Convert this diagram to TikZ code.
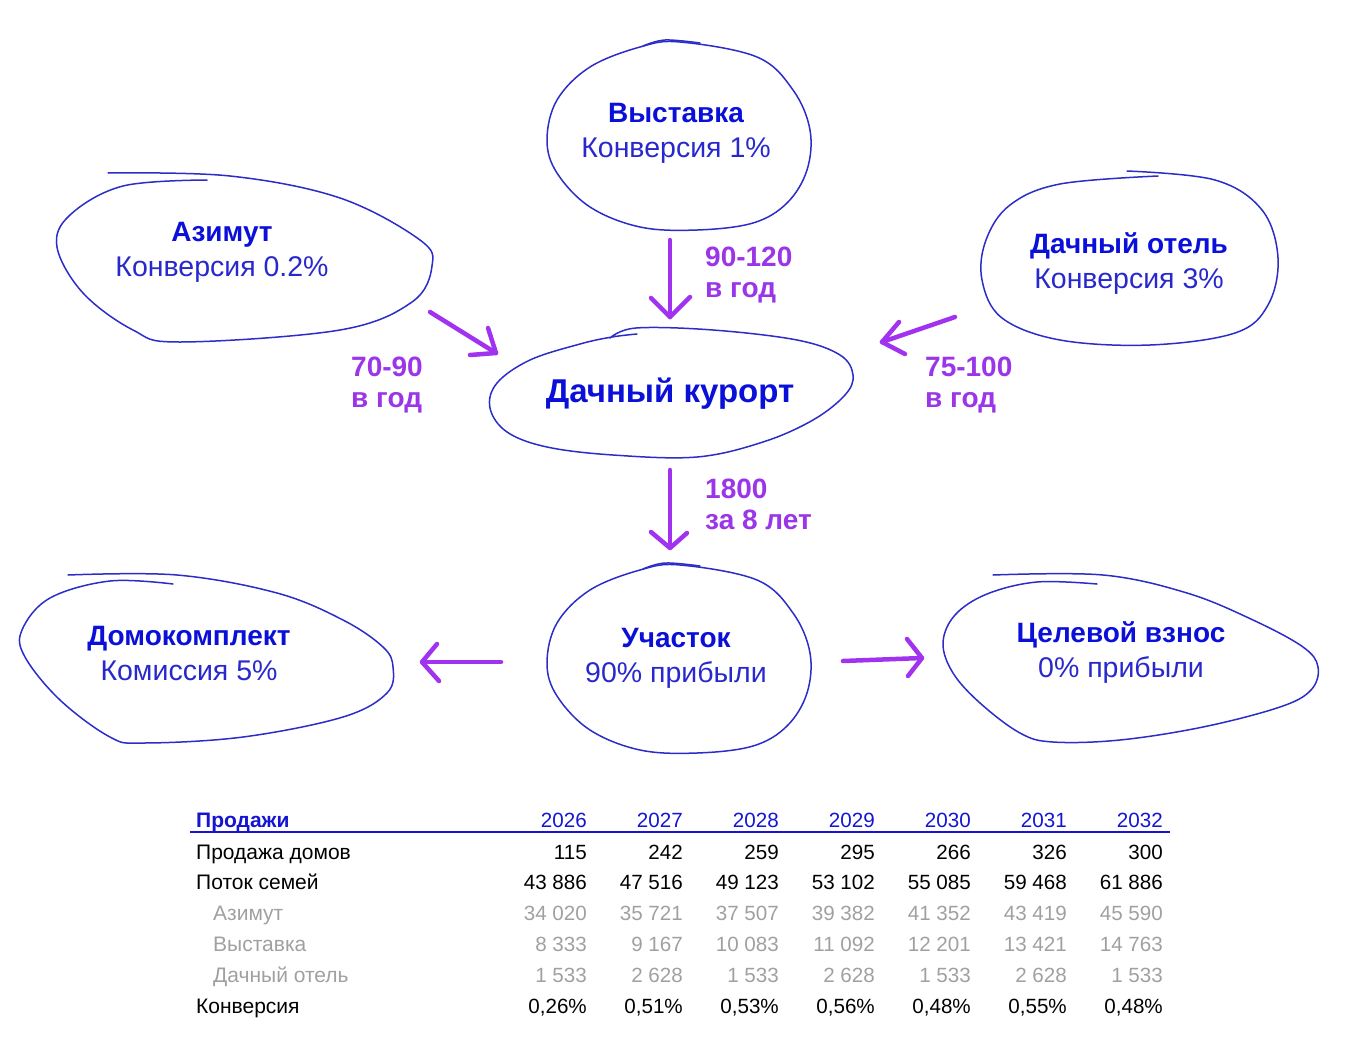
\documentclass[tikz,border=0pt]{standalone}
\usepackage{fontspec}
\setmainfont{Liberation Sans}
\definecolor{outline}{RGB}{44,44,200}
\definecolor{titlec}{RGB}{10,16,216}
\definecolor{subc}{RGB}{40,40,204}
\definecolor{arrowc}{RGB}{160,50,240}
\definecolor{lblc}{RGB}{155,53,232}
\definecolor{grayc}{RGB}{160,160,160}
\definecolor{hdrc}{RGB}{20,20,210}
\tikzset{
  blob/.style={draw=outline, line width=1.5pt, line cap=round, line join=round},
  arr/.style={draw=arrowc, line width=4.5pt, line cap=round, line join=round},
  bubbletext/.style={inner sep=0, align=center, font=\fontsize{28.5}{35}\selectfont},
  lbl/.style={inner sep=0, anchor=base west, text=lblc, font=\fontsize{28}{28}\selectfont\bfseries},
  tcell/.style={inner sep=0, anchor=base east, font=\fontsize{20.6}{24}\selectfont},
  tlabel/.style={inner sep=0, anchor=base west, font=\fontsize{21}{24}\selectfont},
}
\newcommand{\ttl}[1]{{\color{titlec}\fontsize{28}{35}\selectfont\bfseries #1}}
\newcommand{\sbt}[1]{{\color{subc}#1}}
\begin{document}
\begin{tikzpicture}[x=1pt,y=-1pt]
\useasboundingbox (0,0) rectangle (1354,1052);

% ---------- blobs ----------
% Выставка
\draw[blob] plot[smooth cycle, tension=0.6] coordinates {(680,42) (757,57) (793,90) (810,130) (807,170) (787,203) (753,223) (697,230) (640,227) (590,207) (557,173) (547,140) (557,100) (590,67) (640,47)};
\draw[blob] plot[smooth, tension=0.6] coordinates {(643,46) (665,40) (700,43)};
% Участок
\begin{scope}[shift={(0,523)}]
\draw[blob] plot[smooth cycle, tension=0.6] coordinates {(680,42) (757,57) (793,90) (810,130) (807,170) (787,203) (753,223) (697,230) (640,227) (590,207) (557,173) (547,140) (557,100) (590,67) (640,47)};
\draw[blob] plot[smooth, tension=0.6] coordinates {(643,46) (665,40) (700,43)};
\end{scope}
% Азимут
\draw[blob] plot[smooth, tension=0.6] coordinates {(207,180) (123,186) (70,215) (57,247) (83,293) (133,330) (180,342) (340,330) (412,302) (432,266) (420,240) (340,198) (230,176) (108,173)};
% Дачный отель
\draw[blob] plot[smooth, tension=0.6] coordinates {(1127,171) (1215,180) (1262,210) (1278,258) (1268,305) (1235,333) (1150,345) (1060,340) (1002,318) (982,280) (986,240) (1010,205) (1060,184) (1158,176)};
% Дачный курорт
\draw[blob] plot[smooth, tension=0.6] coordinates {(610,338) (636,328) (713,330) (797,340) (840,355) (853,375) (845,395) (813,420) (763,442) (697,457) (613,455) (547,447) (507,432) (490,408) (497,383) (530,360) (580,344) (612,337) (637,334)};
% Домокомплект
\draw[blob] plot[smooth, tension=0.6] coordinates {(68,575) (177,575) (277,593) (343,620) (383,647) (393,667) (387,693) (343,717) (243,737) (143,743) (110,737) (60,700) (25,657) (22,630) (50,598) (110,581) (173,584)};
% Целевой взнос
\draw[blob] plot[smooth, tension=0.6] coordinates {(993,575) (1103,575) (1187,593) (1253,620) (1303,647) (1318,667) (1311,690) (1280,707) (1203,727) (1120,740) (1053,742) (1020,733) (980,703) (953,673) (943,643) (955,615) (987,594) (1037,582) (1097,584)};

% ---------- bubble texts ----------
\node[bubbletext] (vys) at (676,133) {\ttl{Выставка}\\\sbt{Конверсия 1\%}};
\node[bubbletext] (azi) at (222,252) {\ttl{Азимут}\\\sbt{Конверсия 0.2\%}};
\node[bubbletext] (hot) at (1129,264) {\ttl{Дачный отель}\\\sbt{Конверсия 3\%}};
\node[inner sep=0, text=titlec, font=\fontsize{33}{38}\selectfont\bfseries] (kur) at (670,394) {Дачный курорт};
\node[bubbletext] (uch) at (676,658) {\ttl{Участок}\\\sbt{90\% прибыли}};
\node[bubbletext] (dom) at (189,653) {\ttl{Домокомплект}\\\sbt{Комиссия 5\%}};
\node[bubbletext] (cel) at (1121,653) {\ttl{Целевой взнос}\\\sbt{0\% прибыли}};

% ---------- arrows ----------
\coordinate (a1s) at (670,240); \coordinate (a1e) at (670,317);
\draw[arr] (a1s) -- (a1e);
\draw[arr] ([shift={(-19,-19)}]a1e) -- (a1e) -- ++(20,-20);

\coordinate (a2s) at (430,312); \coordinate (a2e) at (496,353);
\draw[arr] (a2s) -- (a2e);
\draw[arr] ([shift={(-8,-25)}]a2e) -- (a2e) -- ++(-26,2);

\coordinate (a3s) at (955,317); \coordinate (a3e) at (882,342);
\draw[arr] (a3s) -- (a3e);
\draw[arr] ([shift={(17,-20)}]a3e) -- (a3e) -- ++(23,12);

\coordinate (a4s) at (670,470); \coordinate (a4e) at (670,548);
\draw[arr] (a4s) -- (a4e);
\draw[arr] ([shift={(-19,-16)}]a4e) -- (a4e) -- ++(17,-15);

\coordinate (a5s) at (501,662); \coordinate (a5e) at (422,662);
\draw[arr] (a5s) -- (a5e);
\draw[arr] ([shift={(15,-18)}]a5e) -- (a5e) -- ++(17,19);

\coordinate (a6s) at (843,661); \coordinate (a6e) at (922,658);
\draw[arr] (a6s) -- (a6e);
\draw[arr] ([shift={(-15,-19)}]a6e) -- (a6e) -- ++(-14,18);

% ---------- arrow labels ----------
\node[lbl] (l1a) at (705,266) {90-120};
\node[lbl] (l1b) at (705,297) {в год};
\node[lbl] (l2a) at (351,376) {70-90};
\node[lbl] (l2b) at (351,407) {в год};
\node[lbl] (l3a) at (925,376) {75-100};
\node[lbl] (l3b) at (925,407) {в год};
\node[lbl] (l4a) at (705,498) {1800};
\node[lbl] (l4b) at (705,529) {за 8 лет};

% ---------- table ----------
\node[tlabel, text=hdrc, font=\fontsize{21}{24}\selectfont\bfseries] (th) at (196,827) {Продажи};
\foreach \v [count=\i] in {2026,2027,2028,2029,2030,2031,2032}
  \node[tcell, text=hdrc] (h\i) at (491+96*\i,827) {\v};
\coordinate (ulA) at (190,832); \coordinate (ulB) at (1170,832);
\draw[hdrc, line width=1.6pt] (ulA) -- (ulB);

\node[tlabel] (r1) at (196,859) {Продажа домов};
\foreach \v [count=\i] in {115,242,259,295,266,326,300}
  \node[tcell] (r1c\i) at (491+96*\i,859) {\v};

\node[tlabel] (r2) at (196,889) {Поток семей};
\foreach \v [count=\i] in {43 886,47 516,49 123,53 102,55 085,59 468,61 886}
  \node[tcell] (r2c\i) at (491+96*\i,889) {\v};

\node[tlabel, text=grayc] (r3) at (213,920) {Азимут};
\foreach \v [count=\i] in {34 020,35 721,37 507,39 382,41 352,43 419,45 590}
  \node[tcell, text=grayc] (r3c\i) at (491+96*\i,920) {\v};

\node[tlabel, text=grayc] (r4) at (213,951) {Выставка};
\foreach \v [count=\i] in {8 333,9 167,10 083,11 092,12 201,13 421,14 763}
  \node[tcell, text=grayc] (r4c\i) at (491+96*\i,951) {\v};

\node[tlabel, text=grayc] (r5) at (213,982) {Дачный отель};
\foreach \v [count=\i] in {1 533,2 628,1 533,2 628,1 533,2 628,1 533}
  \node[tcell, text=grayc] (r5c\i) at (491+96*\i,982) {\v};

\node[tlabel] (r6) at (196,1013) {Конверсия};
\foreach \v [count=\i] in {{0,26\%},{0,51\%},{0,53\%},{0,56\%},{0,48\%},{0,55\%},{0,48\%}}
  \node[tcell] (r6c\i) at (491+96*\i,1013) {\v};
\end{tikzpicture}
\end{document}
